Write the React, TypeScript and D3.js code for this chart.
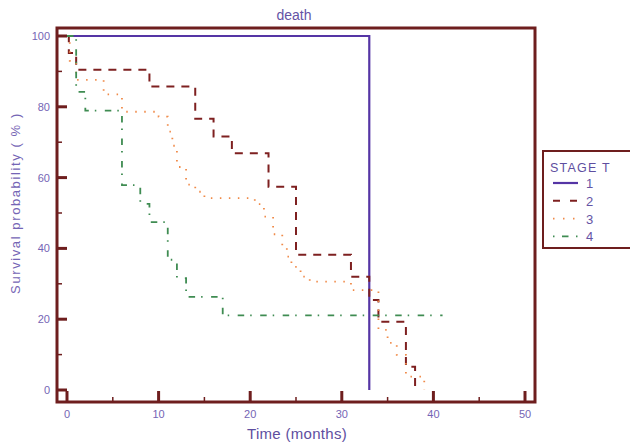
import React from 'react';
import * as d3 from 'd3';

// survival curves: [month, survival %]
const stage1: [number, number][] = [[0, 100], [33, 0]];
const stage2: [number, number][] = [
  [0, 100], [0.2, 95.2], [1, 90.5], [9, 85.7], [14, 76.6], [16, 71.6], [18, 66.9],
  [22, 57.4], [25, 38.2], [31, 32], [33, 25.4], [34, 19.3], [37, 6.6], [38, 0],
];
const stage3: [number, number][] = [
  [0, 100], [0.3, 93], [1, 87.6], [4, 83.5], [6, 78.6], [10, 77.2], [11, 73], [11.5, 69],
  [12, 63], [13, 58], [14, 56], [15, 54.2], [20.5, 52.5], [21.5, 49], [22.5, 44],
  [23.5, 40.5], [24, 37.7], [24.5, 34.8], [25.5, 32], [26.5, 30.6], [31, 28.2],
  [34, 17], [35, 13.3], [36, 9.9], [37, 3.8], [39, 0],
];
const stage4: [number, number][] = [
  [0, 100], [1, 84.2], [2, 78.9], [6, 57.9], [8, 52.6], [9, 47.4], [11, 36.8],
  [12, 31.6], [13, 26.3], [17, 21.1], [41, 21.1],
];

const stageNames = ['1', '2', '3', '4'];
const xTicks = [0, 10, 20, 30, 40, 50];
const yTicks = [0, 20, 40, 60, 80, 100];

const frameCol = '#6e1e1e';
const textCol = '#7565b5';

const series = [
  { data: stage1, color: '#5535a5', dash: null, width: 2.2 },
  { data: stage2, color: '#7e2020', dash: '8 7', width: 2 },
  { data: stage3, color: '#f08a48', dash: '1.5 7.5', width: 1.8 },
  { data: stage4, color: '#3f8c52', dash: '6.5 6 1.5 8.5', width: 1.8 },
];

export default function App() {
  const x = d3.scaleLinear().domain([0, 50]).range([67, 525]);
  const y = d3.scaleLinear().domain([0, 100]).range([390, 36]);
  const left = 57, right = 535, top = 28, bottom = 402;

  const line = d3.line<[number, number]>()
    .x(d => x(d[0]))
    .y(d => y(d[1]))
    .curve(d3.curveStepAfter);

  const xMinor = d3.range(5, 51, 10);
  const yMinor = d3.range(10, 100, 20);

  const font = 'Liberation Sans, Arial, sans-serif';

  return (
    <svg width={630} height={448} style={{ position: 'absolute', left: 0, top: 0 }} fontFamily={font}>
      <rect width={630} height={448} fill="#fff" />
      <text x={294} y={20} textAnchor="middle" fontSize={14} fill="#6553a5">death</text>

      {series.map((s, i) => (
        <path key={i} d={line(s.data) || ''} fill="none" stroke={s.color}
          strokeWidth={s.width} strokeDasharray={s.dash || undefined} />
      ))}

      {/* frame */}
      <rect x={left} y={top} width={right - left} height={bottom - top}
        fill="none" stroke={frameCol} strokeWidth={3} />

      {/* y ticks */}
      {yTicks.map(t => (
        <g key={'y' + t}>
          <line x1={left} x2={left + 10} y1={y(t)} y2={y(t)} stroke={frameCol} strokeWidth={3} />
          <text x={50} y={y(t) + 4} textAnchor="end" fontSize={11} fill={textCol}>{t}</text>
        </g>
      ))}
      {yMinor.map(t => (
        <line key={'ym' + t} x1={left} x2={left + 5} y1={y(t)} y2={y(t)} stroke={frameCol} strokeWidth={1.5} />
      ))}

      {/* x ticks */}
      {xTicks.map(t => (
        <g key={'x' + t}>
          <line x1={x(t)} x2={x(t)} y1={bottom} y2={bottom - 11} stroke={frameCol} strokeWidth={3} />
          <text x={x(t)} y={418} textAnchor="middle" fontSize={11} fill={textCol}>{t}</text>
        </g>
      ))}
      {xMinor.map(t => (
        <line key={'xm' + t} x1={x(t)} x2={x(t)} y1={bottom} y2={bottom - 5} stroke={frameCol} strokeWidth={1.5} />
      ))}

      <text x={297} y={439} textAnchor="middle" fontSize={15} fill="#5e4ea0"
        style={{ letterSpacing: '0.3px' }}>Time (months)</text>
      <text transform="translate(20,203) rotate(-90)" textAnchor="middle" fontSize={13}
        fill={textCol} style={{ letterSpacing: '1.6px' }}>Survival probability ( % )</text>

      {/* legend */}
      <rect x={543} y={151} width={92} height={97} fill="#fff" stroke={frameCol} strokeWidth={2} />
      <text x={550} y={172} fontSize={12.5} fill="#5e4ea0" style={{ letterSpacing: '1.2px' }}>STAGE T</text>
      {series.map((s, i) => {
        const ly = 183 + i * 17.8;
        return (
          <g key={'l' + i}>
            <line x1={553} x2={578} y1={ly} y2={ly} stroke={s.color} strokeWidth={s.width}
              strokeDasharray={s.dash ? (i === 1 ? '7 10' : i === 2 ? '1.5 8.5' : '1.5 7.5 6.5 7.5 1.5') : undefined} />
            <text x={586} y={ly + 5} fontSize={13} fill="#6553a5">{stageNames[i]}</text>
          </g>
        );
      })}
    </svg>
  );
}
